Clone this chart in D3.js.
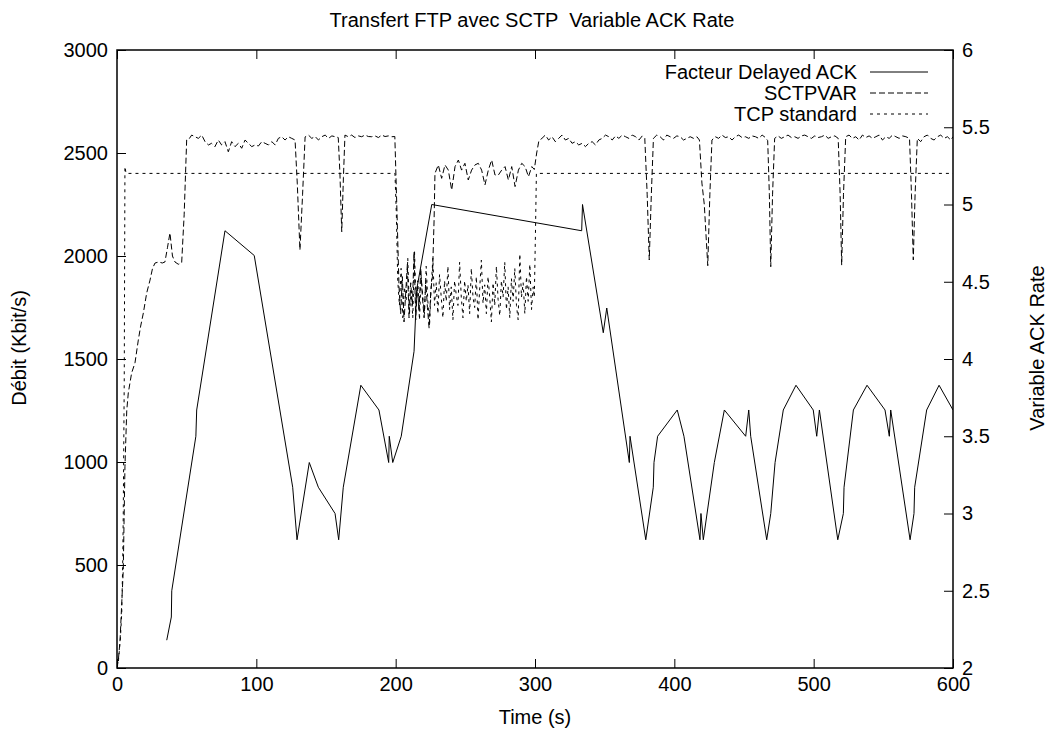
<!DOCTYPE html>
<html>
<head>
<meta charset="utf-8">
<script src="https://cdn.jsdelivr.net/npm/d3@7"></script>
<style>
  body { margin: 0; background: #fff; }
  svg text { font-family: "Liberation Sans", Arial, Helvetica, sans-serif; font-size: 20px; fill: #000; white-space: pre; }
</style>
</head>
<body>
<svg id="chart" width="1047" height="731"></svg>
<script>
"use strict";

const chartTitle = "Transfert FTP avec SCTP  Variable ACK Rate";
const seriesNames = ["Facteur Delayed ACK", "SCTPVAR", "TCP standard"];
const xTicks = [0, 100, 200, 300, 400, 500, 600];
const yTicks = [0, 500, 1000, 1500, 2000, 2500, 3000];
const y2Ticks = [2, 2.5, 3, 3.5, 4, 4.5, 5, 5.5, 6];

// [time (s), factor] - right axis
const ackFactor = [
  [35.7, 2.18], [39, 2.33], [39.3, 2.5], [56.6, 3.5], [57.2, 3.67], [77.5, 4.83],
  [98.5, 4.67], [126.1, 3.17], [129.2, 2.83], [138, 3.33], [144.5, 3.17], [156.5, 3.0],
  [159.1, 2.83], [162.4, 3.17], [175, 3.83], [188, 3.67], [195, 3.33], [195.4, 3.5],
  [197.9, 3.33], [204, 3.5], [213.2, 4.05], [215.1, 4.45], [225.9, 5.0], [333.5, 4.83],
  [334.1, 5.0], [349, 4.17], [351.5, 4.33], [367.7, 3.33], [368.2, 3.5], [379.5, 2.83],
  [384.9, 3.17], [385.4, 3.33], [388, 3.5], [402.1, 3.67], [406.9, 3.5], [418.4, 2.83],
  [419.1, 3.0], [420.8, 2.83], [428.7, 3.33], [435.9, 3.67], [451.2, 3.5], [453.4, 3.67],
  [454.8, 3.5], [466.3, 2.83], [469.2, 3.0], [472.3, 3.33], [478.2, 3.67], [487.3, 3.83],
  [499.7, 3.67], [502.2, 3.5], [504.1, 3.67], [517.3, 2.83], [521.3, 3.0], [521.8, 3.17],
  [528.5, 3.67], [538.3, 3.83], [551.2, 3.67], [554.3, 3.5], [555.3, 3.67], [569.2, 2.83],
  [572, 3.0], [572.5, 3.17], [581.1, 3.67], [590, 3.83], [600, 3.67]
];

// [time (s), Kbit/s] - left axis
const sctpvar = [
  [0, 0], [1, 40], [2.2, 136], [3.3, 300], [4.5, 475], [5.7, 977], [7, 1250], [8.1, 1335],
  [10.5, 1432], [12.9, 1481], [15.3, 1592], [17, 1660], [18.9, 1723], [21.3, 1820],
  [23.7, 1883], [25.5, 1940], [27.3, 1966], [30, 1971], [32.5, 1966], [34.4, 1971],
  [36.2, 2040], [38, 2112], [39.8, 2000], [41.6, 1971], [44, 1960], [46.4, 1966],
  [48.2, 2200], [50, 2563],
  [51.2, 2563], [53.6, 2587], [56, 2579], [58.4, 2571], [60.8, 2587], [63.2, 2555],
  [65.6, 2539], [67.9, 2547], [70.3, 2531], [72.7, 2563], [75.1, 2539], [77.5, 2555],
  [79.9, 2506], [82.3, 2555], [84.7, 2531], [87.1, 2547], [89.5, 2523], [91.9, 2563],
  [94.3, 2547], [96.7, 2531], [99.1, 2539], [101.5, 2534], [103.9, 2555], [106.3, 2547],
  [108.7, 2539], [111.1, 2555], [113.5, 2539], [115.8, 2571], [118.2, 2579], [120.6, 2563],
  [123, 2579], [125.4, 2571], [127.8, 2563],
  [129.4, 2350], [131.3, 2029], [133.2, 2300], [135, 2578],
  [137.4, 2587], [139.8, 2571], [142.2, 2580], [144.6, 2563], [147, 2579], [149.4, 2587],
  [151.8, 2571], [154.2, 2583], [156.6, 2579], [158.8, 2575],
  [160, 2400], [161.3, 2118], [162.5, 2380], [163.6, 2587],
  [166, 2579], [168.4, 2587], [170.8, 2575], [173.2, 2583], [175.6, 2579], [178, 2587],
  [180.4, 2580], [182.8, 2579], [185.2, 2583], [187.6, 2575], [190, 2587], [192.4, 2580],
  [194.8, 2583], [197.2, 2579], [199.4, 2580],
  [201, 2200], [202.4, 1850], [203.6, 1720], [204.8, 1900], [206, 1680], [207.2, 1820],
  [208.4, 1960], [209.6, 1700], [210.8, 1870], [212, 1760], [213.2, 2020], [214.4, 1690],
  [215.6, 1850], [216.8, 1730], [218, 1940], [219.2, 1800], [220.4, 1700], [221.6, 1880],
  [222.8, 1750], [224, 1650], [225.2, 1830], [226.4, 1900], [227.6, 2180],
  [228.2, 2401], [230.6, 2442], [233, 2377], [235.4, 2442], [237.8, 2417], [240.2, 2320],
  [242.6, 2434], [245, 2466], [247.3, 2417], [249.7, 2450], [252.1, 2369], [254.5, 2417],
  [256.9, 2442], [259.3, 2450], [261.7, 2417], [264.1, 2345], [266.5, 2417], [268.9, 2466],
  [271.3, 2393], [273.7, 2393], [276.1, 2417], [278.5, 2434], [280.9, 2369], [283.3, 2434],
  [285.7, 2337], [288.1, 2417], [290.5, 2450], [292.9, 2434], [295.3, 2385], [297.7, 2434],
  [299.5, 2420], [301.2, 2500], [302.8, 2560],
  [305, 2571], [307.4, 2587], [309.8, 2563], [312.2, 2579], [314.6, 2555], [317, 2571],
  [319.4, 2587], [321.8, 2563], [324.2, 2571], [326.6, 2547], [329, 2555], [331.4, 2539],
  [333.8, 2547], [336.2, 2531], [338.6, 2547], [341, 2555], [343.4, 2539], [345.8, 2563],
  [348.2, 2571], [350.6, 2587], [353, 2579], [355.4, 2563], [357.8, 2583], [360.2, 2571],
  [362.6, 2587], [365, 2579], [367.4, 2571], [369.8, 2587], [372.2, 2579], [374.6, 2563],
  [377, 2583], [378.8, 2571],
  [380.5, 2300], [382, 1981], [383.5, 2300], [385, 2571],
  [387.4, 2587], [389.8, 2579], [392.2, 2563], [394.6, 2587], [397, 2579], [399.4, 2571],
  [401.8, 2583], [404.2, 2579], [406.6, 2563], [409, 2571], [411.4, 2579], [413.8, 2571],
  [416.2, 2579], [418, 2563],
  [419.8, 2354], [421.5, 2250], [424, 1953], [425.5, 2300], [427, 2563],
  [429.4, 2579], [431.8, 2571], [434.2, 2587], [436.6, 2575], [439, 2579], [441.4, 2563],
  [443.8, 2579], [446.2, 2587], [448.6, 2575], [451, 2579], [453.4, 2571], [455.8, 2583],
  [458.2, 2579], [460.6, 2571], [463, 2587], [465.4, 2575], [467, 2560],
  [468.2, 2300], [469.2, 1948], [470.5, 2300], [472, 2571],
  [474.4, 2583], [476.8, 2571], [479.2, 2579], [481.6, 2587], [484, 2575], [486.4, 2579],
  [488.8, 2571], [491.2, 2583], [493.6, 2587], [496, 2579], [498.4, 2571], [500.8, 2583],
  [503.2, 2575], [505.6, 2579], [508, 2587], [510.4, 2571], [512.8, 2579], [515.2, 2583],
  [517.6, 2571],
  [519, 2300], [520.1, 1956], [521.4, 2300], [523, 2579],
  [525.4, 2587], [527.8, 2571], [530.2, 2579], [532.6, 2563], [535, 2587], [537.4, 2575],
  [539.8, 2583], [542.2, 2571], [544.6, 2579], [547, 2587], [549.4, 2563], [551.8, 2579],
  [554.2, 2571], [556.6, 2587], [559, 2579], [561.4, 2571], [563.8, 2583], [566.2, 2579],
  [568.8, 2571],
  [570.2, 2300], [571.5, 1981], [572.8, 2300], [574.4, 2571],
  [576.8, 2555], [579.2, 2579], [581.6, 2587], [584, 2571], [586.4, 2563], [588.8, 2579],
  [591.2, 2587], [593.6, 2571], [596, 2579], [598.4, 2563], [600, 2579]
];

const tcpStandard = [
  [0, 0], [1, 30], [2.5, 150], [3.4, 267], [4.1, 510], [4.5, 752], [5.2, 1398],
  [5.7, 2434], [6.5, 2401], [199.5, 2401],
  [200.5, 2200], [201.5, 1880], [202.7, 1760], [203.9, 1940], [205.1, 1700], [206.3, 1850],
  [207.5, 1780], [208.7, 1990], [209.9, 1720], [211.1, 1830], [212.3, 1700], [213.5, 2030],
  [214.7, 1760], [215.9, 1880], [217.1, 1690], [218.3, 1900], [219.5, 1800], [220.7, 1720],
  [221.9, 1950], [223.1, 1780], [224.3, 1660], [225.5, 1850], [226.7, 1990], [227.9, 1760],
  [229.1, 1870], [230.3, 1720], [231.5, 1910], [232.7, 1800], [233.9, 1700], [235.1, 1880],
  [236.3, 1780], [237.5, 1950], [238.7, 1740], [239.9, 1850], [241.1, 1690], [242.3, 1880],
  [243.5, 1810], [244.7, 1760], [245.9, 1970], [247.1, 1800], [248.3, 1700], [249.5, 1880],
  [250.7, 1780], [251.9, 1860], [253.1, 1720], [254.3, 1940], [255.5, 1800], [256.7, 1750],
  [257.9, 1900], [259.1, 1690], [260.3, 1840], [261.5, 1980], [262.7, 1770], [263.9, 1860],
  [265.1, 1720], [266.3, 1900], [267.5, 1800], [268.7, 1680], [269.9, 1870], [271.1, 1760],
  [272.3, 1950], [273.5, 1790], [274.7, 1710], [275.9, 1880], [277.1, 1800], [278.3, 1970],
  [279.5, 1740], [280.7, 1850], [281.9, 1700], [283.1, 1890], [284.3, 1780], [285.5, 1940],
  [286.7, 1760], [287.9, 1690], [289.1, 2010], [290.3, 1800], [291.5, 1870], [292.7, 1720],
  [293.9, 1900], [295.1, 1780], [296.3, 1960], [297.5, 1740], [298.7, 1850], [299.5, 1800],
  [300.3, 2100], [301, 2401], [600, 2401]
];

const svg = d3.select("#chart");
const plotLeft = 117, plotRight = 953, plotTop = 50, plotBottom = 668;

const x = d3.scaleLinear().domain([0, 600]).range([plotLeft, plotRight]);
const y = d3.scaleLinear().domain([0, 3000]).range([plotBottom, plotTop]);
const y2 = d3.scaleLinear().domain([2, 6]).range([plotBottom, plotTop]);

svg.append("rect").attr("width", 1047).attr("height", 731).attr("fill", "#fff");

svg.append("defs").append("clipPath").attr("id", "plotclip")
   .append("rect").attr("x", plotLeft).attr("y", plotTop)
   .attr("width", plotRight - plotLeft).attr("height", plotBottom - plotTop);

// axes, gnuplot style: ticks point inward
const tick = 9;
function styleAxis(g) {
    g.select(".domain").remove();
    g.selectAll(".tick line").attr("stroke", "#000").attr("stroke-width", 1);
    g.selectAll(".tick text").attr("fill", "#000")
     .style("font-family", "'Liberation Sans', Arial, sans-serif").style("font-size", "20px");
}

svg.append("g").attr("transform", "translate(0," + plotBottom + ")")
   .call(d3.axisBottom(x).tickValues(xTicks).tickSize(-tick).tickPadding(9)
         .tickFormat(d3.format("d")))
   .call(styleAxis);
svg.append("g").attr("transform", "translate(0," + plotTop + ")")
   .call(d3.axisTop(x).tickValues(xTicks).tickSize(-tick).tickFormat(""))
   .call(styleAxis);
svg.append("g").attr("transform", "translate(" + plotLeft + ",0)")
   .call(d3.axisLeft(y).tickValues(yTicks).tickSize(-tick).tickPadding(9)
         .tickFormat(d3.format("d")))
   .call(styleAxis);
svg.append("g").attr("transform", "translate(" + plotRight + ",0)")
   .call(d3.axisRight(y2).tickValues(y2Ticks).tickSize(-tick).tickPadding(9)
         .tickFormat(d3.format("~g")))
   .call(styleAxis);

// series
const lineL = d3.line().x(d => x(d[0])).y(d => y(d[1]));
const lineR = d3.line().x(d => x(d[0])).y(d => y2(d[1]));
const plot = svg.append("g").attr("clip-path", "url(#plotclip)");

plot.append("path").datum(tcpStandard).attr("d", lineL)
    .attr("fill", "none").attr("stroke", "#000").attr("stroke-width", 1)
    .attr("stroke-dasharray", "3,4");
plot.append("path").datum(sctpvar).attr("d", lineL)
    .attr("fill", "none").attr("stroke", "#000").attr("stroke-width", 1)
    .attr("stroke-dasharray", "6,3");
plot.append("path").datum(ackFactor).attr("d", lineR)
    .attr("fill", "none").attr("stroke", "#000").attr("stroke-width", 1);

// border
svg.append("rect").attr("x", plotLeft).attr("y", plotTop)
   .attr("width", plotRight - plotLeft).attr("height", plotBottom - plotTop)
   .attr("fill", "none").attr("stroke", "#000").attr("stroke-width", 1.5);

// legend
const dashes = [null, "6,3", "3,4"];
const legend = svg.append("g");
seriesNames.forEach(function(name, i) {
    const ly = 72 + i * 21;
    legend.append("text").attr("x", 857).attr("y", ly).attr("dy", "0.35em")
          .attr("text-anchor", "end").text(name);
    legend.append("line").attr("x1", 870).attr("x2", 928).attr("y1", ly).attr("y2", ly)
          .attr("stroke", "#000").attr("stroke-width", 1)
          .attr("stroke-dasharray", dashes[i]);
});

// titles
const midX = (plotLeft + plotRight) / 2, midY = 348;
svg.append("text").attr("x", midX - 3).attr("y", 27)
   .attr("text-anchor", "middle").text(chartTitle);
svg.append("text").attr("x", midX).attr("y", 724)
   .attr("text-anchor", "middle").text("Time (s)");
svg.append("text").attr("transform", "translate(26," + midY + ") rotate(-90)")
   .attr("text-anchor", "middle").text("Débit (Kbit/s)");
svg.append("text").attr("transform", "translate(1037," + midY + ") rotate(-90)")
   .attr("text-anchor", "middle").attr("dy", "0.35em").text("Variable ACK Rate");
</script>
</body>
</html>
